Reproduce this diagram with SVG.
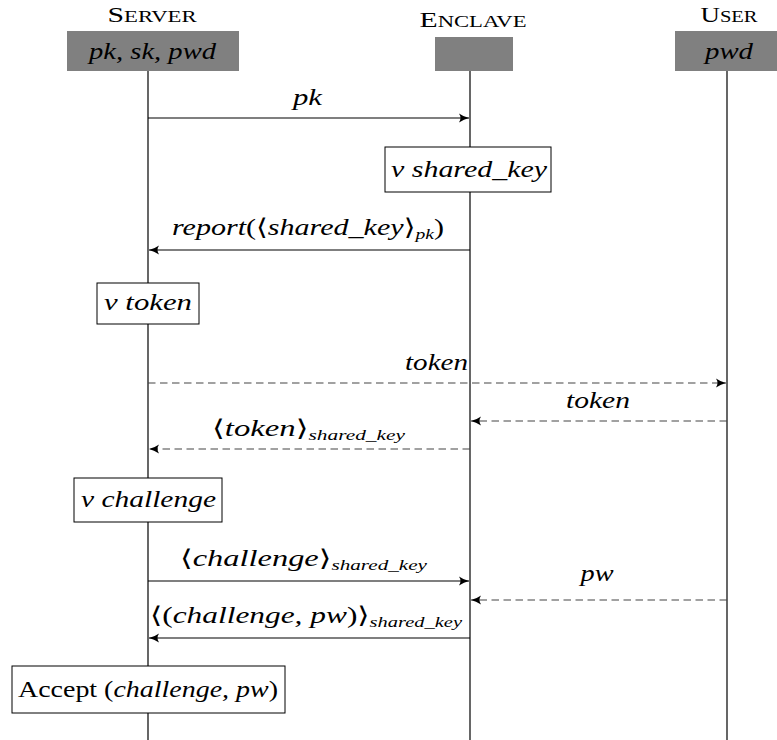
<svg xmlns="http://www.w3.org/2000/svg" width="777" height="740" viewBox="0 0 777 740">
<style>
.t{font-family:"Liberation Serif","DejaVu Serif",serif;font-size:23px;fill:#000}
.i{font-style:italic}
.sub{font-size:15px;font-style:italic}
.sc{font-family:"Liberation Serif","DejaVu Serif",serif;fill:#000}
.life{stroke:#000;stroke-width:1.2;fill:none}
.hdr{fill:#808080}
.box{fill:#fff;stroke:#000;stroke-width:1}
.msg{stroke:#000;stroke-width:1.2;fill:none}
.dash{stroke:#444;stroke-width:1.2;fill:none;stroke-dasharray:7.5 4.5}
</style>
<defs>
<marker id="ah" markerWidth="12" markerHeight="10" refX="10" refY="5" orient="auto" markerUnits="userSpaceOnUse">
<path d="M0,0.5 Q5,4 10,5 Q5,6 0,9.5 Q3,5 0,0.5 Z" fill="#000"/>
</marker>
</defs>

<g id="lifelines">
<line class="life" x1="148" y1="71" x2="148" y2="740"/>
<line class="life" x1="470" y1="71" x2="470" y2="740"/>
<line class="life" x1="727" y1="71" x2="727" y2="740"/>
</g>

<g id="server">
<text class="sc" x="152" y="22" text-anchor="middle" textLength="89" lengthAdjust="spacingAndGlyphs"><tspan font-size="21">S</tspan><tspan font-size="16">ERVER</tspan></text>
<rect class="hdr" x="67" y="31" width="172" height="40"/>
<text class="t i" x="152.5" y="59" text-anchor="middle" textLength="127" lengthAdjust="spacingAndGlyphs">pk, sk, pwd</text>
</g>

<g id="enclave">
<text class="sc" x="473" y="27" text-anchor="middle" textLength="107" lengthAdjust="spacingAndGlyphs"><tspan font-size="21">E</tspan><tspan font-size="16">NCLAVE</tspan></text>
<rect class="hdr" x="435" y="37" width="78" height="34"/>
</g>

<g id="user">
<text class="sc" x="729" y="22" text-anchor="middle" textLength="57" lengthAdjust="spacingAndGlyphs"><tspan font-size="21">U</tspan><tspan font-size="16">SER</tspan></text>
<rect class="hdr" x="675" y="31" width="102" height="40"/>
<text class="t i" x="729" y="59" text-anchor="middle" textLength="48" lengthAdjust="spacingAndGlyphs">pwd</text>
</g>

<g id="connectors">
<line class="msg" x1="148" y1="118" x2="469" y2="118" marker-end="url(#ah)"/>
<line class="msg" x1="470" y1="250" x2="149" y2="250" marker-end="url(#ah)"/>
<line class="dash" x1="148" y1="383" x2="726" y2="383" marker-end="url(#ah)"/>
<line class="dash" x1="727" y1="421" x2="471" y2="421" marker-end="url(#ah)"/>
<line class="dash" x1="470" y1="449" x2="149" y2="449" marker-end="url(#ah)"/>
<line class="msg" x1="148" y1="581" x2="469" y2="581" marker-end="url(#ah)"/>
<line class="dash" x1="727" y1="600" x2="471" y2="600" marker-end="url(#ah)"/>
<line class="msg" x1="470" y1="638" x2="149" y2="638" marker-end="url(#ah)"/>
</g>

<g id="labels">
<text class="t i" x="307.5" y="105" text-anchor="middle" textLength="29" lengthAdjust="spacingAndGlyphs">pk</text>
<text class="t" x="308" y="235" text-anchor="middle" textLength="272" lengthAdjust="spacingAndGlyphs"><tspan class="i">report</tspan>(⟨<tspan class="i">shared_key</tspan>⟩<tspan class="sub" dy="4">pk</tspan><tspan dy="-4">)</tspan></text>
<text class="t i" x="468" y="370" text-anchor="end" textLength="63" lengthAdjust="spacingAndGlyphs">token</text>
<text class="t i" x="598" y="408" text-anchor="middle" textLength="64" lengthAdjust="spacingAndGlyphs">token</text>
<text class="t" x="308.5" y="436" text-anchor="middle" textLength="193" lengthAdjust="spacingAndGlyphs">⟨<tspan class="i">token</tspan>⟩<tspan class="sub" dy="4">shared_key</tspan></text>
<text class="t" x="303.5" y="566" text-anchor="middle" textLength="247" lengthAdjust="spacingAndGlyphs">⟨<tspan class="i">challenge</tspan>⟩<tspan class="sub" dy="4">shared_key</tspan></text>
<text class="t i" x="597" y="581" text-anchor="middle" textLength="33" lengthAdjust="spacingAndGlyphs">pw</text>
<text class="t" x="306" y="623" text-anchor="middle" textLength="312" lengthAdjust="spacingAndGlyphs">⟨(<tspan class="i">challenge, pw</tspan>)⟩<tspan class="sub" dy="4">shared_key</tspan></text>
</g>

<g id="new-shared-key">
<rect class="box" x="385" y="147" width="166" height="45"/>
<text class="t i" x="469" y="177" text-anchor="middle" textLength="156" lengthAdjust="spacingAndGlyphs">ν shared_key</text>
</g>
<g id="new-token">
<rect class="box" x="97" y="283" width="102" height="41"/>
<text class="t i" x="148" y="310" text-anchor="middle" textLength="88" lengthAdjust="spacingAndGlyphs">ν token</text>
</g>
<g id="new-challenge">
<rect class="box" x="74" y="478" width="148" height="44"/>
<text class="t i" x="148.5" y="507" text-anchor="middle" textLength="135" lengthAdjust="spacingAndGlyphs">ν challenge</text>
</g>
<g id="accept">
<rect class="box" x="12" y="666" width="273" height="47"/>
<text class="t" x="148" y="697" text-anchor="middle" textLength="260" lengthAdjust="spacingAndGlyphs">Accept (<tspan class="i">challenge, pw</tspan>)</text>
</g>
</svg>
